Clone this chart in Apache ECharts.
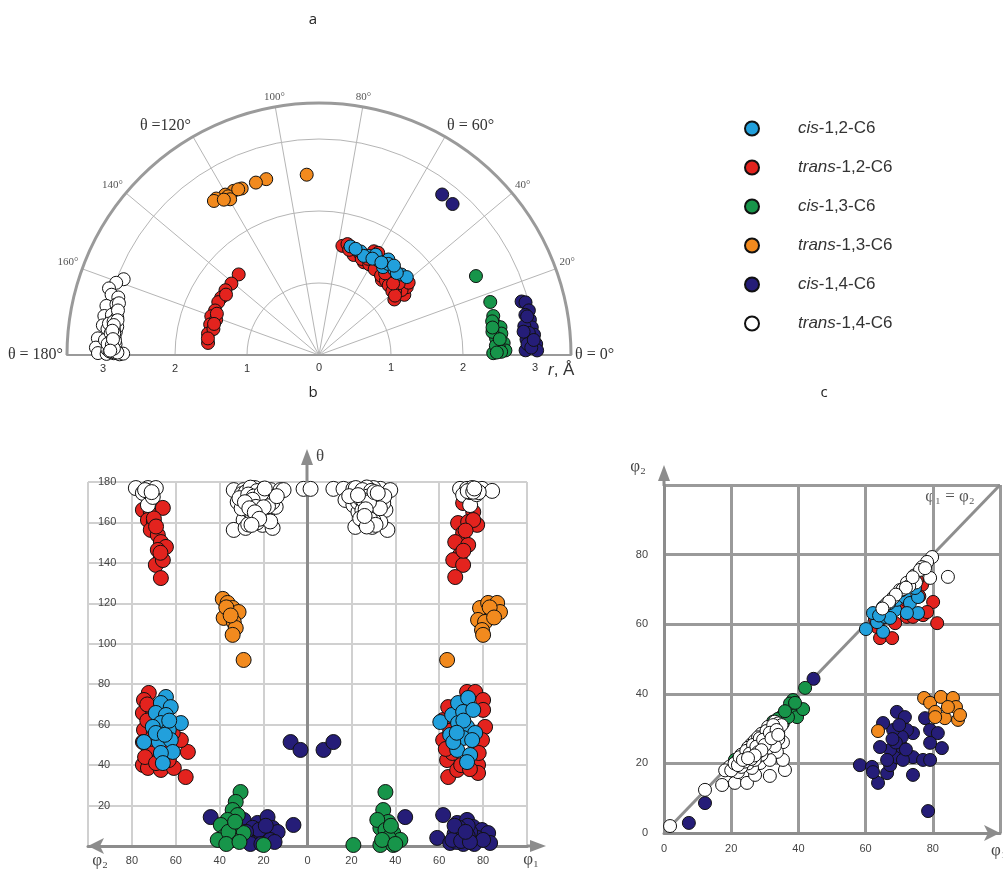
<!DOCTYPE html>
<html><head><meta charset="utf-8">
<script src="https://cdn.jsdelivr.net/npm/echarts@6/dist/echarts.min.js"></script>
<style>html,body{margin:0;padding:0;background:#fff}#c{width:1003px;height:869px}</style>
</head><body><div id="c"></div><script>
// ---------- names / colours ----------
const seriesNames = ['cis-1,2-C6','trans-1,2-C6','cis-1,3-C6','trans-1,3-C6','cis-1,4-C6','trans-1,4-C6'];
const seriesColors = ['#22a0dc','#e3231e','#17954a','#f28a1e','#251d78','#ffffff'];
const drawOrder = [1,0,4,2,3,5];

// ---------- panel a : [r (Å), theta (deg)] ----------
const aCis12 = [[1.57,73.8],[1.55,68.1],[1.54,63.3],[1.55,58.0],[1.64,54.0],[1.51,53.9],[1.58,48.5],[1.60,44.3],[1.63,41.6],[1.51,65.7],[1.59,52.7],[1.56,71],[1.60,60.5],[1.53,61],[1.57,46.5],[1.62,50],[1.55,56]];
const aTrans12 = [[1.58,134.9],[1.57,140.8],[1.58,145.3],[1.575,149.6],[1.58,152.3],[1.57,156.8],[1.59,160.2],[1.57,164.3],[1.57,169.1],[1.55,173.8],[1.51,166.2],[1.51,161.1],[1.53,158],[1.54,147],[1.56,171.5],[1.52,163.5],
  [1.55,77.9],[1.59,75.6],[1.63,62.1],[1.64,59.9],[1.30,36.4],[1.45,35.2],[1.54,37.7],[1.46,38.2],[1.39,43.9],[1.47,56.2],[1.43,64.2],[1.47,70.9],[1.44,49.5],[1.60,38.9],[1.50,45],[1.42,53],[1.52,68],[1.38,40],[1.48,60],[1.41,47],[1.55,72],[1.45,58],[1.36,50],[1.49,42],
  [1.46,66],[1.44,61],[1.42,57],[1.40,52],[1.39,48],[1.37,45],[1.35,41],[1.34,38],[1.43,44],[1.46,51],[1.50,63],[1.52,74]];
const aCis13 = [[2.44,26.7],[2.49,17.2],[2.48,12.6],[2.48,9.9],[2.55,8.7],[2.55,6.7],[2.57,3.7],[2.59,1.4],[2.42,0.6],[2.47,5.4],[2.43,7.6],[2.45,11],[2.50,2.5],[2.46,3.0],[2.52,5.0],[2.44,9],[2.53,1.0],[2.47,0.8]];
const aTrans13 = [[2.51,93.9],[2.55,106.7],[2.55,110.1],[2.55,114.9],[2.57,117.5],[2.58,120.3],[2.60,123.3],[2.59,124.3],[2.54,119.8],[2.49,119.7],[2.56,116],[2.53,121.5]];
const aCis14 = [[2.91,14.8],[2.96,14.3],[2.98,12.0],[2.97,9.5],[2.98,7.4],[3.0,5.4],[3.02,2.9],[3.03,1.2],[2.87,1.3],[2.89,4.3],[2.81,52.5],[2.80,48.5],[2.92,11],[2.88,8],[2.93,6],[2.90,3],[2.95,2],[2.86,6.5],[2.94,10.5],[2.99,4]];
const aTrans14 = [[2.91,158.8],[2.99,160.4],[3.06,162.4],[3.0,163.8],[2.90,164.0],[3.03,167.0],[3.03,169.7],[3.03,172.2],[3.08,175.7],[3.10,178.1],[3.07,179.5],[2.77,179.8],[2.72,179.6],[2.95,179.7],[2.85,179.5],
  [2.90,166],[2.88,168],[2.92,170],[2.86,171],[2.90,172.5],[2.84,173.5],[2.88,174.5],[2.92,175.5],[2.86,176.5],[2.90,177.5],[2.94,178.5],[2.82,178.8],[2.88,179.2],[2.96,173],[2.98,176],[2.93,169],[2.87,165.5],[2.95,171.5],
  [2.85,169.5],[2.89,170.8],[2.83,172],[2.87,173],[2.91,174],[2.85,175],[2.89,176],[2.83,177],[2.87,178],[2.91,179],[2.80,179.3],[2.94,177],
  [2.86,167.5],[2.84,170.2],[2.88,171.7],[2.86,174],[2.84,176],[2.88,177.2],[2.85,178.2],[2.89,173.3],[2.87,175.6],[2.90,178.8]];

// ---------- panel b : [phi (deg), theta (deg)]; L = phi2 side, R = phi1 side ----------
const bCis12L = [[64.5,73.7],[66.8,70.7],[62.3,68.7],[69.1,65.8],[64.5,64.8],[57.7,60.8],[66.8,60.8],[63.2,57.4],[74.5,51.4],[67.7,51.4],[62.3,52.4],[61.4,46.5],[66.8,46],[65.9,41],[70.5,58.9],[69.1,55.9],[65,55],[63,62]];
const bCis12R = [[60.5,61.3],[65.9,64.8],[68.6,70.7],[73.2,73.2],[70.9,66.3],[75.5,67.3],[68.6,60.8],[72.7,58.9],[76.4,55.9],[65,54.9],[70.9,53.4],[75,52.4],[68.2,47.5],[74.1,45],[72.7,41.5],[66.4,51.4],[71,62],[68,56]];
const bTrans12L = [[75,166.2],[71.4,165.2],[65.9,167.2],[72.7,161.2],[70,160.2],[71.4,156.3],[68.2,153.8],[66.8,150.3],[64.5,147.9],[68.2,146.4],[66.8,142.4],[69.1,139],[65.9,141.4],[66.8,132.5],[70,162],[69,158],[67,145],
  [72.3,75.7],[74.5,72.2],[75,65.8],[74.5,57.4],[75,51.4],[75,40.1],[72.7,38.6],[66.8,37.6],[60.9,38.6],[55.5,34.1],[54.5,46.5],[57.7,52.4],[61.4,55.9],[71.4,68.7],[68.2,44],[63.2,42.5],[73,62],[72,48],[70,56],[74,44],[69,41],[66,48],[71,53],[73,70]];
const bTrans12R = [[70.9,169.6],[75.5,165.2],[68.6,159.7],[73.2,160.2],[77.3,158.8],[70.9,154.8],[67.3,150.3],[73.2,148.9],[69.5,143.9],[66.4,141.4],[70.9,139],[67.3,133],[75.5,161.2],[72,156],[71,146],
  [72.7,76.2],[76.4,76.2],[80,72.2],[80,67.3],[80.9,58.9],[79.5,52.4],[63.6,42.5],[64.1,34.1],[68.2,37.6],[77.7,40.1],[77.7,36.1],[61.8,52.4],[61.8,62.3],[64.1,68.7],[66,46],[70,40],[74,38],[65,57],[78,46],[63,48]];
const bCis13L = [[30.5,26.7],[32.7,21.8],[34.1,17.8],[31.8,15.3],[36.4,12.9],[39.5,10.4],[32.7,9.4],[29.1,6.4],[38.2,4.5],[40.9,3],[20,0.5],[34.1,3],[36,7],[33,12],[37,1],[31,2]];
const bCis13R = [[35.5,26.7],[34.5,17.8],[36.8,11.9],[33.2,8.9],[39.1,6.4],[42.3,3],[33.2,0.5],[39.1,0.5],[31.8,12.9],[20.9,0.5],[35.5,7.9],[37,4],[38,10],[34,3],[40,1]];
const bTrans13L = [[38.6,122.2],[36.4,120.2],[34.1,117.7],[31.4,115.7],[38.2,112.8],[33.6,110.8],[32.7,107.8],[34.1,104.4],[29.1,92],[37,118],[35,114]];
const bTrans13R = [[78.6,117.7],[82.3,120.2],[86.4,120.2],[84.5,115.2],[87.7,115.7],[77.7,111.8],[80.9,110.8],[79.5,106.8],[80,104.4],[63.6,92],[83,118],[85,113]];
const bCis14L = [[44.1,14.3],[29.1,12.9],[22.7,11.4],[18.2,14.3],[15.9,8.9],[13.6,6.9],[24.5,6.4],[20,4],[27.3,3],[6.4,10.4],[7.7,51.4],[3.2,47.5],[25,9],[22,8],[17,3],[28,7],[19,10],[26,1],[21,1],[15,2]];
const bCis14R = [[7.3,47.5],[11.8,51.4],[44.5,14.3],[61.8,15.3],[59.1,4],[68.2,11.4],[72.7,12.9],[75.5,9.4],[79.5,7.9],[82.3,6.4],[83.2,1.5],[69.5,4],[77.3,4],[65,1.5],[74.1,6.9],[70,8],[67,6],[72,3],[76,1],[80,3],[71,1],[68,2],[73,10],
  [69,9],[71,5],[66,3],[73,5],[70,2.5],[74,2],[67,10],[72,7]];
const bTrans14L = [[78.2,177],[72.7,177],[69.1,177],[75,174.6],[72.7,168.6],[70.5,172.6],[74,176],[71,175],
  [33.6,176],[29.1,176],[25.9,176],[21.4,176],[16.8,176],[12.3,176],[10.9,176],[31.8,170.1],[27.3,168.6],[22.7,166.2],[18.2,165.2],[14.5,167.7],[29.1,161.2],[24.5,161.2],[20.5,158.8],[15.9,157.3],[33.6,156.3],[28.2,157.3],[25.9,174.6],[18.2,173.6],[22.7,170.1],[27,172],[20,171],[24,169],[30,174],[16,170],[23,163],[19,162],[26,165],[1.8,176.6],
  [28,175],[24,177],[20,176.5],[26,170.5],[22,172.5],[18,168],[30,167],[25,163.5],[21,164],[27,159],[23,160],[17,160.5],[31,172],[14,173],
  [26,177.2],[23,175.5],[27,173.8],[24.5,172.8],[21,174.3],[25,171.2],[28.5,170],[23.5,167.7],[26.5,167],[20,167.5],[24,165],[22,161.8],[25.5,158.8],[19.5,176.8]];
const bTrans14R = [[1.4,176.6],[11.8,176.6],[16.4,176.6],[20.9,176.6],[27.3,176.6],[33.2,176.6],[37.7,176],[17.3,171.1],[20.9,168.6],[23.2,165.2],[27.3,162.7],[31.8,163.7],[35.5,166.2],[34.5,169.6],[21.8,157.8],[29.5,157.8],[36.4,156.3],[33.2,160.2],[25,174],[29,172],[23,170],[27,167],[31,170],[26,160],[24,175],[30,165],
  [22,177],[26,176],[30,177],[28,174.5],[24,172],[26,169],[29,168],[32,172],[25,166],[28,164],[30,161],[24,162],[19,173],[35,173],[33,167],
  [27,177.3],[25,176],[29,175.6],[27.5,172.8],[25.5,171],[28,170],[26.5,166.5],[28.5,161.5],[31,158.8],[27,158],[30.5,175],[23,173.5],[32,174.5],[26,163.2],
  [69.5,176.6],[72.7,176.6],[76.4,176.6],[79.5,176.6],[84.1,175.6],[70.9,173.6],[74.1,168.6],[74,175],[77,174],[75,177],[78,175],[73,175.5],[75.5,175.2],[76,176.8]];

// ---------- panel c : [phi1, phi2] ----------
const cCis12 = [[60.1,58.6],[65.2,57.8],[63.4,60.6],[65.8,62.1],[68.8,64.1],[69.3,67],[71.7,67.8],[73.2,66.1],[75.6,67.8],[75.6,63.2],[72.3,63.2],[65.2,64.9],[67.3,61.8],[62.2,63.2],[74.7,70.4],[70.8,69.8],[67,66],[64,62.5]];
const cTrans12 = [[64.3,56],[67.9,56],[81.3,60.3],[80.1,66.4],[76.8,71.3],[77.1,62.6],[68.8,60.3],[72.3,62.1],[63.4,59.2],[62.8,61.5],[74.1,62.1],[73.2,71.8],[75.3,72.7],[78.3,63.5],[66,62],[70,65],[64,61],[76,68],[72,67]];
const cCis13 = [[21.1,21],[33,29.9],[35.4,31.6],[35.4,33.8],[38.4,35.3],[39.6,33.3],[41.4,35.6],[38.4,38.2],[42,41.7],[37.5,37.2],[32.5,32],[33.9,32.8],[36.9,33.3],[39,37.4],[36,35]];
const cTrans13 = [[63.7,29.3],[77.4,38.8],[79.2,37.4],[82.4,39.1],[86,38.8],[80.7,34.8],[83.6,33],[86.9,36.2],[87.5,32.5],[88.1,33.9],[84.5,36.2],[80.7,33.3]];
const cCis14 = [[44.5,44.3],[12.2,8.6],[7.4,2.9],[78.6,6.3],[58.3,19.5],[61.9,19],[63.7,14.4],[66.4,17.2],[67.3,19.5],[69.3,21.8],[70.8,24.7],[67.3,23.9],[64.3,24.7],[69.3,34.8],[71.7,33.3],[74.1,28.7],[72.3,29.6],[70.8,27.6],[77.7,33],[79.2,29.6],[81.5,28.7],[82.7,24.4],[79.2,25.9],[74.1,21.8],[77.1,21],[74.1,16.7],[79.2,21],[68.2,29.6],[66.4,21],[62.2,17.5],[65.2,31.6],[71.1,21],[69,26],[72,24],[68,27],[70,31]];
const cTrans14 = [[1.8,2],[12.2,12.4],[17.3,13.8],[21.1,14.4],[24.7,14.4],[27.1,16.7],[31.5,16.4],[36,18.1],[35.4,21],[35.4,26.1],[22,17.5],[19.6,19.1],[18.2,18.0],[28.6,20.1],[33.6,23.3],[31.5,21],[26.2,18.7],[22.6,20.1],
  [22,21],[24,22],[26,24],[28,26],[30,27],[25,20],[27,23],[29,25],[31,28],[32,26],[28,22],[33,30],[23,19],[20,18],[30,24],[24,23],[26,25.5],[29,28],[32,30],[34,29],[21,20],[27,26],[33,27],[30,29],
  [23,22.5],[25,24.5],[27,26.5],[29,28.5],[31,30.5],[33,32],[34,31.5],[32,29],[30,26.5],[28,24],[26,22],[24,20.5],[22,19.5],[34,27],[35,31],[31,24.5],[29,22.5],[27,21],[25,23],[28,27.5],[31,26],[33,25],
  [22.5,21.8],[24.5,23.6],[26.5,25.3],[28.5,27.2],[30.5,29.3],[32.5,31],[23.5,21],[25.5,22.8],[27.5,24.8],[29.5,26.8],[31.5,28.8],[33.5,29.6],[26,21.3],[28,23.2],[30,25.3],[32,27.2],[34,28.2],[29,23.8],[27,22.3],[25,21.5],
  [79.8,79.3],[78.3,77.9],[76.8,76.4],[74.5,74.0],[72.3,71.9],[70.2,69.8],[79.2,73.3],[84.5,73.6],[68.2,67.6],[66.4,66],[76.2,75.6],[77.7,76.1],[75,72],[73,71],[71,70],[74,73.5],[72,70.5],[69,68.5],[67,66.5],[65,64.5]];
const diagonalLine = [[0,0],[100,100]];

// ---------- tick labels ----------
const angleTicks = {0:'θ = 0°', 60:'θ = 60°', 120:'θ =120°', 180:'θ = 180°'};

const panelA = [aCis12,aTrans12,aCis13,aTrans13,aCis14,aTrans14];
const panelBL = [bCis12L,bTrans12L,bCis13L,bTrans13L,bCis14L,bTrans14L];
const panelBR = [bCis12R,bTrans12R,bCis13R,bTrans13R,bCis14R,bTrans14R];
const panelC = [cCis12,cTrans12,cCis13,cTrans13,cCis14,cTrans14];

const SERIF = '"Liberation Serif", "DejaVu Serif", serif';
const SANS = '"Liberation Sans", Arial, sans-serif';
const markStyle = i => ({color: seriesColors[i], borderColor:'#111', borderWidth:1, opacity:1});

const series = [];
series.push({type:'line', xAxisIndex:1, yAxisIndex:1, data:diagonalLine, symbol:'none', silent:true, z:1,
  lineStyle:{color:'#8e8e8e', width:3}});
drawOrder.forEach(i => {
  series.push({type:'scatter', name:seriesNames[i], coordinateSystem:'polar', polarIndex:0,
    data:panelA[i], symbolSize:13, itemStyle:markStyle(i), z:3});
  series.push({type:'scatter', name:seriesNames[i], xAxisIndex:0, yAxisIndex:0,
    data:panelBL[i].map(p => [-p[0], p[1]]).concat(panelBR[i]), symbolSize:15, itemStyle:markStyle(i), z:3});
  series.push({type:'scatter', name:seriesNames[i], xAxisIndex:1, yAxisIndex:1,
    data:panelC[i], symbolSize:13, itemStyle:markStyle(i), z:3});
});

const axisGray = '#8c8c8c';
const arrowY = (x, yTop) => ({type:'polygon', shape:{points:[[x, yTop],[x-6, yTop+16],[x+6, yTop+16]]}, style:{fill:axisGray}, z:10});
const arrowX = (xTip, y) => ({type:'polygon', shape:{points:[[xTip, y],[xTip-16, y-6],[xTip-16, y+6]]}, style:{fill:axisGray}, z:10});
const seg = (x1,y1,x2,y2) => ({type:'line', shape:{x1,y1,x2,y2}, style:{stroke:axisGray, lineWidth:3}, z:10});

const option = {
  animation:false,
  backgroundColor:'#ffffff',
  legend:{
    data:seriesNames, orient:'vertical', left:739, top:115, itemWidth:82, itemHeight:14, itemGap:22,
    icon:'circle', selectedMode:false,
    formatter: n => n.replace(/^(cis|trans)/, '{i|$1}'),
    textStyle:{fontSize:17, color:'#333', fontFamily:SANS,
      rich:{i:{fontStyle:'italic', fontSize:17, color:'#333', fontFamily:SANS}}}
  },
  polar:[{center:[319,355], radius:[0,252]},{center:[319,355], radius:[0,252]}],
  angleAxis:[
    {polarIndex:0, type:'value', min:0, max:180, interval:20, startAngle:0, endAngle:180, clockwise:false,
     axisLine:{lineStyle:{color:'#9a9a9a', width:3}}, axisTick:{show:false},
     splitLine:{lineStyle:{color:'#b5b5b5', width:1}},
     axisLabel:{margin:4, formatter: v => angleTicks[v] !== undefined ? '{b|'+angleTicks[v]+'}' : '{s|'+v+'°}',
       rich:{b:{fontSize:16, fontFamily:SERIF, color:'#333'}, s:{fontSize:11, fontFamily:SERIF, color:'#555'}}}},
    {polarIndex:1, type:'value', min:0, max:180, startAngle:180, endAngle:0, clockwise:true, show:false}
  ],
  radiusAxis:[
    {polarIndex:0, type:'value', min:0, max:3.5, interval:1,
     axisLine:{lineStyle:{color:'#9a9a9a', width:2}}, axisTick:{show:false},
     axisLabel:{margin:-18, formatter: v => (v % 1 === 0 ? String(v) : ''), color:'#333', fontSize:11, fontFamily:SANS},
     splitLine:{show:true, lineStyle:{color:'#b5b5b5', width:1}}},
    {polarIndex:1, type:'value', min:0, max:3.5, interval:1,
     axisLine:{lineStyle:{color:'#9a9a9a', width:2}}, axisTick:{show:false},
     axisLabel:{formatter: v => (v % 1 === 0 && v > 0 ? String(v) : ''), color:'#333', fontSize:11, fontFamily:SANS},
     splitLine:{show:false}}
  ],
  grid:[
    {left:88, top:482, width:439, height:364, outerBoundsMode:'none'},
    {left:664, top:485, width:336, height:348, outerBoundsMode:'none'}
  ],
  xAxis:[
    {gridIndex:0, type:'value', min:-100, max:100, interval:20,
     axisLine:{symbol:['arrow','none'], symbolSize:[12,16], lineStyle:{color:axisGray, width:3}},
     axisTick:{show:false},
     axisLabel:{margin:9, color:'#444', fontSize:11, fontFamily:SANS, formatter: v => Math.abs(v) < 100 ? String(Math.abs(v)) : ''},
     splitLine:{show:true, lineStyle:{color:'#d0d0d0', width:2}}},
    {gridIndex:1, type:'value', min:0, max:100, interval:20,
     axisLine:{symbol:['none','arrow'], symbolSize:[12,16], lineStyle:{color:axisGray, width:3}},
     axisTick:{show:false},
     axisLabel:{margin:10, color:'#444', fontSize:11, fontFamily:SANS, formatter: v => v < 100 ? String(v) : ''},
     splitLine:{show:true, lineStyle:{color:'#9a9a9a', width:3}}}
  ],
  yAxis:[
    {gridIndex:0, type:'value', min:0, max:180, interval:20,
     axisLine:{onZero:true, lineStyle:{color:axisGray, width:3}},
     axisTick:{show:false},
     axisLabel:{inside:true, margin:10, color:'#444', fontSize:11, fontFamily:SANS, formatter: v => (v > 0 ? String(v) : '')},
     splitLine:{show:true, lineStyle:{color:'#d0d0d0', width:2}}},
    {gridIndex:1, type:'value', min:0, max:100, interval:20,
     axisLine:{lineStyle:{color:axisGray, width:3}},
     axisTick:{show:false},
     axisLabel:{margin:16, color:'#444', fontSize:11, fontFamily:SANS, formatter: v => v < 100 ? String(v) : ''},
     splitLine:{show:true, lineStyle:{color:'#9a9a9a', width:3}}}
  ],
  graphic:[
    {type:'text', x:313, y:20, style:{text:'a', font:'15px "Open Sans", sans-serif', fill:'#222', align:'center', verticalAlign:'middle'}},
    {type:'text', x:313, y:393, style:{text:'b', font:'15px "Open Sans", sans-serif', fill:'#222', align:'center', verticalAlign:'middle'}},
    {type:'text', x:824, y:393, style:{text:'c', font:'15px "Open Sans", sans-serif', fill:'#222', align:'center', verticalAlign:'middle'}},
    {type:'text', x:548, y:370, style:{text:'{i|r}, Å', fill:'#333', font:'17px "Liberation Sans", Arial', align:'left', verticalAlign:'middle',
      rich:{i:{fontStyle:'italic', fontSize:17, fontFamily:SANS, fill:'#333'}}}},
    // axis-line extensions with arrow heads (panel b, c)
    seg(307,483,307,462), arrowY(307,449),
    seg(527,846,532,846), arrowX(546,846),
    seg(664,486,664,478), arrowY(664,465),
    {type:'text', x:320, y:457, style:{text:'θ', font:'17px "Liberation Serif", serif', fill:'#444', align:'center', verticalAlign:'middle'}},
    {type:'text', x:100, y:861, style:{text:'φ₂', font:'17px "Liberation Serif", serif', fill:'#444', align:'center', verticalAlign:'middle'}},
    {type:'text', x:531, y:860, style:{text:'φ₁', font:'17px "Liberation Serif", serif', fill:'#444', align:'center', verticalAlign:'middle'}},
    {type:'text', x:638, y:467, style:{text:'φ₂', font:'17px "Liberation Serif", serif', fill:'#444', align:'center', verticalAlign:'middle'}},
    {type:'text', x:991, y:851, style:{text:'φ₁', font:'17px "Liberation Serif", serif', fill:'#444', align:'left', verticalAlign:'middle'}},
    {type:'text', x:950, y:497, style:{text:'φ₁ = φ₂', font:'17px "Liberation Serif", serif', fill:'#555', align:'center', verticalAlign:'middle'}}
  ],
  series:series
};
const chart = echarts.init(document.getElementById('c'), null, {renderer:'canvas'});
chart.setOption(option);
</script></body></html>
